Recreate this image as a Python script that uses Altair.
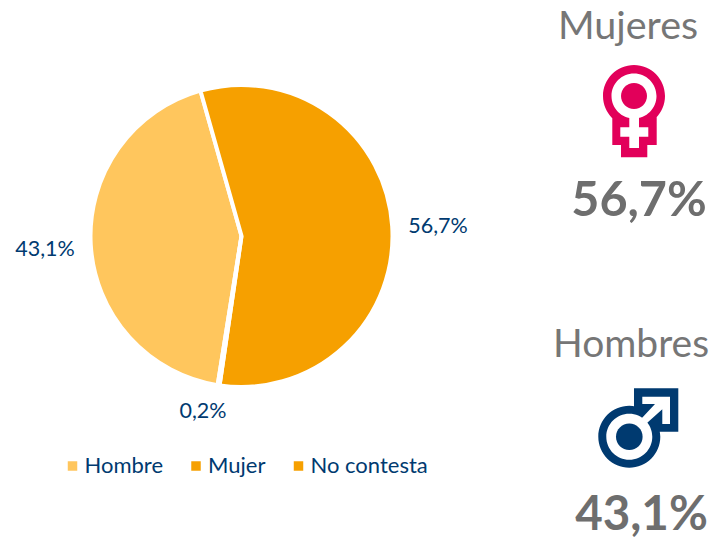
import altair as alt
import pandas as pd

categories = ["Hombre", "Mujer", "No contesta"]
values = [43.1, 56.7, 0.2]
colors = ["#FFC65D", "#F6A000", "#F6A000"]
titles = ["Mujeres", "Hombres"]
BLUE = "#003A70"
PINK = "#E2005A"
ROT = 3.30  # first slice start angle, radians

df = pd.DataFrame({"cat": categories, "val": values, "i": [0, 1, 2],
                   "lab": [f"{v:.1f}%".replace(".", ",") for v in values]})

pie = alt.Chart(df).mark_arc(outerRadius=151, stroke="white", strokeWidth=4).encode(
    x=alt.value(233.5), y=alt.value(228),
    theta=alt.Theta("val:Q", stack=True, scale=alt.Scale(range=[ROT, ROT + 6.28319])),
    order=alt.Order("i:Q"),
    color=alt.Color("cat:N", sort=None,
                    scale=alt.Scale(domain=categories, range=colors),
                    legend=alt.Legend(title=None, orient="none", direction="horizontal",
                                      legendX=53.5, legendY=447, symbolType="square", symbolSize=90,
                                      symbolStrokeWidth=0, labelFontSize=22, labelFont="Lato",
                                      labelColor=BLUE, columnPadding=21.5, labelOffset=1,
                                      labelLimit=200)),
)

def text(label, x, y, size, color, weight="normal"):
    return alt.Chart(pd.DataFrame({"t": [label]})).mark_text(
        font="Lato", fontSize=size, color=color, fontWeight=weight, align="center",
        baseline="alphabetic").encode(x=alt.value(x - 8), y=alt.value(y - 8), text="t:N")

def circ(cx, cy, r):
    return f"M{cx-r},{cy}A{r},{r} 0 1 1 {cx+r},{cy}A{r},{r} 0 1 1 {cx-r},{cy}Z"

def poly(cx, cy, pts):
    return "M" + "L".join(f"{x-cx:.1f},{y-cy:.1f}" for x, y in pts) + "Z"

def icon(px, py, path, color):
    return alt.Chart(pd.DataFrame({"a": [0]})).mark_point(
        shape=path, size=4, filled=True, fill=color, opacity=1, strokeWidth=0).encode(
        x=alt.value(px - 8), y=alt.value(py - 8))

# female icon, centred on its ring
fx, fy = 634, 96
f_body = circ(0, 0, 31) + poly(0, 0, [(-21.7, 20), (22.7, 20), (22.7, 49), (13.3, 49), (13.3, 61.3),
                                      (-13, 61.3), (-13, 49), (-21.7, 49)])
f_hole = circ(0, 0, 22.5) + poly(0, 0, [(-4.7, 20), (5, 20), (5, 31.3), (14.3, 31.3), (14.3, 40.7),
                                        (5, 40.7), (5, 52), (-4.7, 52), (-4.7, 40.7), (-13.7, 40.7),
                                        (-13.7, 31.3), (-4.7, 31.3)])
f_dot = circ(0, 0, 13)

# male icon, centred on its ring
mx, my = 629.3, 436.7
m_body = circ(0, 0, 31) + poly(mx, my, [(634, 388.3), (678.3, 388.3), (678.3, 431.7), (655, 431.7), (634, 415)])
m_hole = circ(0, 0, 23) + poly(mx, my, [(642.3, 396.7), (670, 396.7), (670, 424), (662.3, 424), (662.3, 409.3),
                                        (646.7, 423.3), (641.7, 418.3), (655, 404), (642.3, 404)])
m_dot = circ(0, 0, 13.3)

labels = [text(df.lab[0], 45, 256, 21.5, BLUE),
          text(df.lab[1], 438, 233, 21.5, BLUE),
          text(df.lab[2], 203, 418, 21.5, BLUE)]

chart = alt.layer(
    pie, *labels,
    text(titles[0], 628, 39, 39.5, "#767676"),
    text(df.lab[1], 639, 216, 48.5, "#6E6E6E", "bold"),
    text(titles[1], 631, 357, 39, "#767676"),
    text(df.lab[0], 641.5, 530, 47.5, "#6E6E6E", "bold"),
    icon(fx, fy, f_body, PINK), icon(fx, fy, f_hole, "white"), icon(fx, fy, f_dot, PINK),
    icon(mx, my, m_body, BLUE), icon(mx, my, m_hole, "white"), icon(mx, my, m_dot, BLUE),
).properties(width=701, height=529, padding=0, autosize=alt.AutoSizeParams(type="none")
).configure_view(stroke=None)

chart.save("out.html", embed_options={"renderer": "svg", "actions": False})
